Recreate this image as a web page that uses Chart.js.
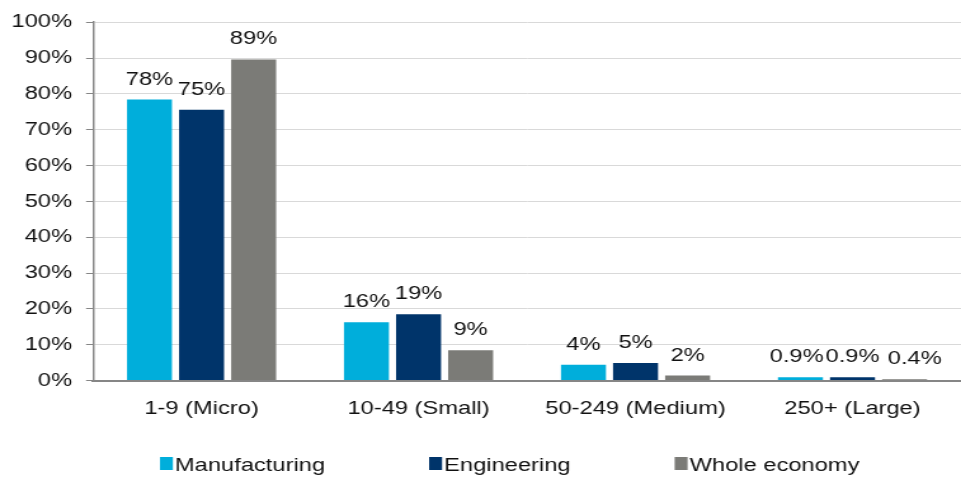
<!DOCTYPE html>
<html>
<head>
<meta charset="utf-8">
<script src="https://cdn.jsdelivr.net/npm/chart.js@4"></script>
<style>
  html, body { margin: 0; padding: 0; background: #fff; overflow: hidden; }
  /* the reference text is horizontally stretched, so draw narrow and stretch */
  #wrap { width: 757px; height: 479px; transform: scaleX(1.2695); transform-origin: 0 0; }
  canvas { display: block; }
</style>
</head>
<body>
<div id="wrap"><canvas id="chart" width="757" height="479"></canvas></div>
<script>
const categories = ['1-9 (Micro)', '10-49 (Small)', '50-249 (Medium)', '250+ (Large)'];
const manufacturing = [78.4, 16.3, 4.4, 0.9];
const engineering = [75.6, 18.5, 4.9, 0.9];
const wholeEconomy = [89.6, 8.5, 1.4, 0.4];
const manufacturingLabels = ['78%', '16%', '4%', '0.9%'];
const engineeringLabels = ['75%', '19%', '5%', '0.9%'];
const wholeEconomyLabels = ['89%', '9%', '2%', '0.4%'];
const yTicks = [0, 10, 20, 30, 40, 50, 60, 70, 80, 90, 100];

const FONT_FAMILY = '"Liberation Sans", Arial, sans-serif';
const FONT_SIZE = 18.67;
const valueLabels = [manufacturingLabels, engineeringLabels, wholeEconomyLabels];
// small sideways nudges so the crowded labels of the last group don't touch
const labelNudge = [[0, 0, 0, -3], [0, 0, 0, 0], [0, 0, 0, 8]];

// value labels above each bar
const barLabels = {
  id: 'barLabels',
  afterDatasetsDraw(chart) {
    const ctx = chart.ctx;
    ctx.save();
    ctx.font = FONT_SIZE + 'px ' + FONT_FAMILY;
    ctx.fillStyle = '#111';
    ctx.textAlign = 'center';
    ctx.textBaseline = 'alphabetic';
    chart.data.datasets.forEach((ds, i) => {
      chart.getDatasetMeta(i).data.forEach((bar, j) => {
        ctx.fillText(valueLabels[i][j], bar.x + labelNudge[i][j], bar.y - 15);
      });
    });
    ctx.restore();
  }
};

// legend row along the bottom, spaced like the original
const legendRow = {
  id: 'legendRow',
  afterDraw(chart) {
    const ctx = chart.ctx;
    ctx.save();
    ctx.font = FONT_SIZE + 'px ' + FONT_FAMILY;
    ctx.textBaseline = 'alphabetic';
    let x = 126;
    const y = 457;
    chart.data.datasets.forEach(ds => {
      ctx.fillStyle = ds.backgroundColor;
      ctx.fillRect(x, y, 10.2, 13);
      x += 11.8;
      ctx.fillStyle = '#111';
      ctx.fillText(ds.label, x, y + 13.5);
      x += ctx.measureText(ds.label).width + 82;
    });
    ctx.restore();
  }
};

new Chart(document.getElementById('chart'), {
  type: 'bar',
  data: {
    labels: categories,
    datasets: [
      { label: 'Manufacturing', data: manufacturing, backgroundColor: '#00AEDB' },
      { label: 'Engineering', data: engineering, backgroundColor: '#00346A' },
      { label: 'Whole economy', data: wholeEconomy, backgroundColor: '#7B7B77' }
    ]
  },
  options: {
    responsive: false,
    animation: false,
    devicePixelRatio: 1,
    categoryPercentage: 0.72,
    barPercentage: 0.864,
    layout: { padding: { top: 20, left: 0, right: 0, bottom: 42 } },
    plugins: {
      legend: { display: false },
      tooltip: { enabled: false }
    },
    scales: {
      x: {
        grid: { display: false, drawTicks: false },
        border: { display: true, color: '#868686', width: 2 },
        ticks: {
          color: '#111',
          padding: 17,
          maxRotation: 0,
          font: { family: FONT_FAMILY, size: FONT_SIZE }
        }
      },
      y: {
        min: 0,
        max: 100,
        afterBuildTicks(axis) { axis.ticks = yTicks.map(v => ({ value: v })); },
        afterFit(axis) { axis.width = 73.3; },
        grid: { color: '#D9D9D9', tickColor: '#868686', tickLength: 5.5, lineWidth: 1 },
        border: { display: true, color: '#868686', width: 1.5 },
        ticks: {
          color: '#111',
          padding: 11,
          font: { family: FONT_FAMILY, size: FONT_SIZE },
          callback: v => v + '%'
        }
      }
    }
  },
  plugins: [barLabels, legendRow]
});
</script>
</body>
</html>
